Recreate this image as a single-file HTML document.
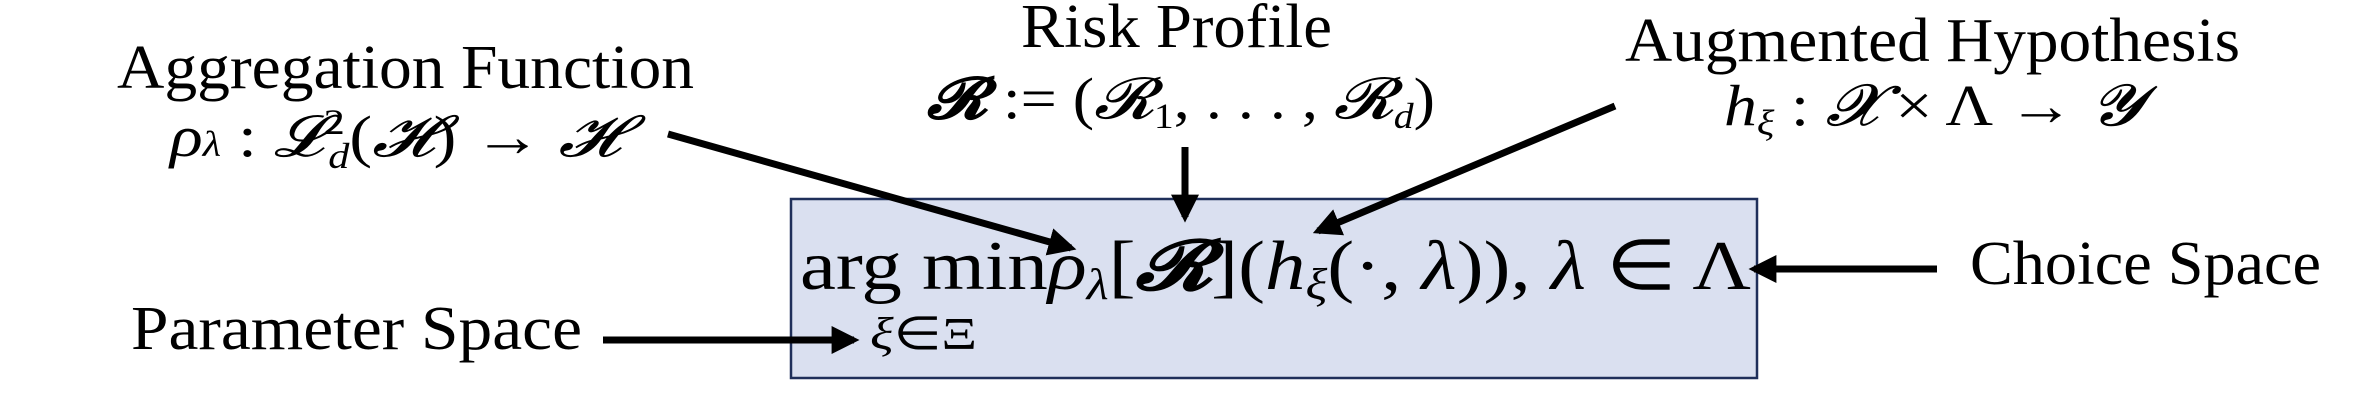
<!DOCTYPE html>
<html><head><meta charset="utf-8"><style>
html,body{margin:0;padding:0;background:#fff;}
svg{display:block;}
text{font-family:"Liberation Serif",serif;fill:#000;}
.it{font-style:italic;}
</style></head><body>
<svg width="2370" height="404" viewBox="0 0 2370 404">
<defs>
<marker id="ah" viewBox="0 0 10 10" refX="8" refY="5" markerWidth="4" markerHeight="4" orient="auto" markerUnits="strokeWidth">
<path d="M0,0 L10,5 L0,10 z" fill="#000"/></marker>
</defs>
<rect x="791" y="199" width="966" height="179" fill="#dae0f0" stroke="#1f2f5a" stroke-width="2.5"/>

<text x="117" y="88" font-size="62" textLength="577" lengthAdjust="spacingAndGlyphs">Aggregation Function</text>
<text x="170" y="156" font-size="58" textLength="450" lengthAdjust="spacingAndGlyphs"><tspan class="it">ρ</tspan><tspan font-size="36" class="it">λ</tspan> : <tspan class="it">𝓛</tspan><tspan font-size="36" dy="-22">2</tspan><tspan font-size="36" class="it" dx="-14" dy="34">d</tspan><tspan dy="-12">(</tspan><tspan class="it">𝓗</tspan>) → <tspan class="it">𝓗</tspan></text>

<text x="1021" y="47" font-size="62" textLength="311" lengthAdjust="spacingAndGlyphs">Risk Profile</text>
<text x="927" y="118" font-size="58" textLength="508" lengthAdjust="spacingAndGlyphs"><tspan font-weight="bold" class="it">𝓡</tspan> := (<tspan class="it">𝓡</tspan><tspan font-size="36" dy="10">1</tspan><tspan dy="-10">, . . . , </tspan><tspan class="it">𝓡</tspan><tspan font-size="36" class="it" dy="10">d</tspan><tspan dy="-10">)</tspan></text>

<text x="1625" y="61" font-size="62" textLength="615" lengthAdjust="spacingAndGlyphs">Augmented Hypothesis</text>
<text x="1724" y="125" font-size="58" textLength="418" lengthAdjust="spacingAndGlyphs"><tspan class="it">h</tspan><tspan font-size="36" class="it" dy="10">ξ</tspan><tspan dy="-10"> : </tspan><tspan class="it">𝓧</tspan> × Λ → <tspan class="it">𝓨</tspan></text>

<text x="800" y="289" font-size="70" textLength="951" lengthAdjust="spacingAndGlyphs">arg min<tspan class="it">ρ</tspan><tspan font-size="44" class="it" dy="10">λ</tspan><tspan dy="-10">[</tspan><tspan font-weight="bold" class="it">𝓡</tspan>](<tspan class="it">h</tspan><tspan font-size="44" class="it" dy="10">ξ</tspan><tspan dy="-10">(·, </tspan><tspan class="it">λ</tspan>)), <tspan class="it">λ</tspan> ∈ Λ</text>
<text x="870" y="349" font-size="46" textLength="107" lengthAdjust="spacingAndGlyphs"><tspan class="it">ξ</tspan>∈Ξ</text>

<text x="131" y="349" font-size="62" textLength="451" lengthAdjust="spacingAndGlyphs">Parameter Space</text>
<text x="1970" y="284" font-size="62" textLength="351" lengthAdjust="spacingAndGlyphs">Choice Space</text>

<g stroke="#000" stroke-width="7" fill="none" marker-end="url(#ah)">
<line x1="668" y1="134" x2="1071" y2="248"/>
<line x1="1185" y1="147" x2="1185" y2="217"/>
<line x1="1615" y1="106" x2="1318" y2="231"/>
<line x1="1937" y1="269" x2="1754" y2="269"/>
<line x1="603" y1="340" x2="854" y2="340"/>
</g>
</svg>
</body></html>
